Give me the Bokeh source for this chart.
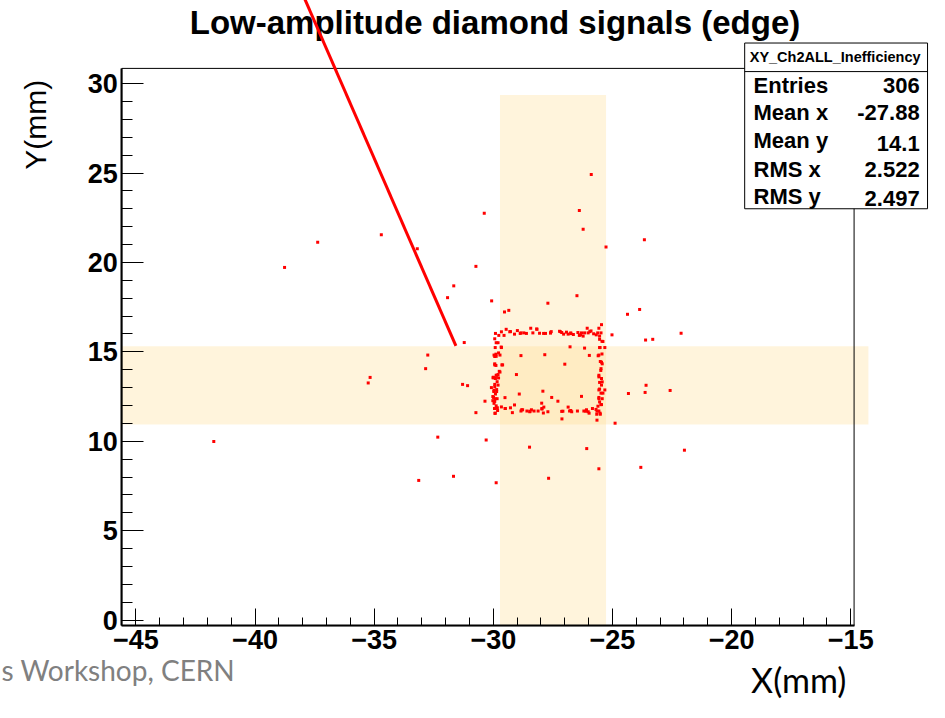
import math
from bokeh.plotting import figure
from bokeh.models import Range1d, LinearAxis, FixedTicker, Label
from bokeh.embed import file_html
from bokeh.resources import INLINE

# ---------------- data ----------------
title_text = "Low-amplitude diamond signals (edge)"
x_ticks = [-45, -40, -35, -30, -25, -20, -15]
x_minor = list(range(-45, -14))
y_ticks = [0, 5, 10, 15, 20, 25, 30]
y_minor = list(range(0, 31))
x_lim = [-45.59, -14.86]
y_lim = [-0.31, 30.85]

vband_x = [-29.72, -25.27]
vband_y = [-0.31, 29.36]
hband_x = [-45.59, -14.26]
hband_y = [10.94, 15.31]

line_x = [-31.57, -37.95]
line_y = [15.33, 34.85]

hit_x = [
    -37.37, -34.70, -33.19, -30.38, -30.73, -31.66, -31.92, -30.07, -26.39, -26.23,
    -25.27, -23.66, -27.71, -26.49, -29.53, -29.35, -24.37, -23.86, -25.02, -23.61,
    -23.31, -22.12, -31.22, -32.75, -32.84, -35.17, -35.25, -31.29, -31.08, -30.73,
    -24.33, -23.59, -23.63, -22.58, -24.89, -32.33, -30.30, -28.48, -26.08, -21.98,
    -23.81, -25.57, -27.68, -33.13, -31.67, -29.88, -27.12, -30.35, -41.73, -38.76,
    -25.89,
    # interior
    -28.84, -27.84, -26.78, -26.17, -25.97, -27.00, -29.03, -28.91, -27.92, -27.55,
    -27.29, -26.30, -27.97, -29.11, -29.51,
    # top edge
    -29.91, -29.77, -29.66, -29.55, -29.46, -29.28, -29.11, -28.99, -28.87, -28.72,
    -28.61, -28.43, -28.34, -28.17, -28.06, -27.89, -27.81, -27.60, -27.57, -27.22,
    -27.13, -27.05, -26.93, -26.86, -26.75, -26.64, -26.45, -26.39, -26.30, -26.23,
    -26.17, -26.06, -26.02, -25.90, -25.79, -25.68, -25.62, -25.57, -25.46,
    -29.31, -28.84, -28.18, -27.60, -27.19, -26.75, -26.34, -25.95,
    # bottom edge
    -29.93, -29.66, -29.50, -29.28, -29.20, -28.84, -28.77, -28.59, -28.47, -28.40,
    -28.29, -28.12, -27.96, -27.88, -27.90, -27.71, -27.13, -26.86, -26.80, -26.71,
    -26.47, -26.20, -26.09, -26.02, -25.84, -25.66, -25.51,
    -29.50, -28.81, -28.46, -27.96, -27.08, -26.75, -26.12, -25.98,
    # left edge
    -29.94, -29.88, -29.80, -29.66, -29.97, -29.88, -29.72, -29.94, -29.94, -29.64,
    -29.75, -29.80, -29.88, -29.97, -30.01, -29.84, -29.94, -29.98, -29.91, -29.99,
    -29.84, -29.94, -29.88, -29.95, -29.82, -30.08, -29.86, -29.91, -30.02,
    -29.92, -29.67, -29.89, -29.94, -29.78, -29.89, -29.61, -29.72, -29.85, -30.00,
    -29.78, -29.94, -29.80, -29.97, -29.86, -30.02, -29.92, -29.97, -29.83, -29.92,
    # right edge
    -25.48, -25.54, -25.44, -25.54, -25.32, -25.44, -25.57, -25.51, -25.43, -25.48,
    -25.57, -25.46, -25.54, -25.46, -25.57, -25.32, -25.48, -25.57, -25.43, -25.54,
    -25.46, -25.61, -25.69, -25.57, -25.65,
    -25.54, -25.40, -25.52, -25.60, -25.46, -25.49, -25.57, -25.43, -25.54, -25.40,
    -25.57, -25.49, -25.65, -25.52,
]
hit_y = [
    21.13, 21.55, 20.76, 22.75, 19.78, 18.69, 18.03, 17.85, 22.91, 21.86,
    20.86, 21.27, 17.72, 18.14, 17.23, 17.32, 17.10, 17.37, 15.95, 15.66,
    15.70, 16.04, 15.52, 14.82, 14.06, 13.57, 13.26, 13.18, 13.11, 11.60,
    12.67, 13.13, 12.73, 12.84, 11.01, 10.23, 10.07, 9.67, 9.59, 9.50,
    8.54, 8.46, 7.93, 7.81, 8.04, 7.68, 11.25, 12.24, 9.99, 19.72,
    24.92,
    # interior
    14.79, 14.84, 15.28, 15.21, 14.80, 14.31, 13.73, 12.64, 12.80, 12.45,
    12.24, 12.51, 12.13, 12.03, 12.44,
    # top edge
    16.03, 15.92, 16.12, 15.92, 16.26, 16.13, 15.99, 16.19, 16.03, 16.06,
    16.03, 16.32, 16.06, 16.26, 16.04, 16.03, 16.03, 16.06, 16.13, 16.15,
    16.08, 15.99, 16.10, 15.99, 16.06, 15.97, 16.08, 15.92, 16.06, 15.88,
    16.06, 16.32, 16.06, 16.17, 16.01, 15.95, 16.06, 16.32, 16.52,
    16.13, 16.06, 16.28, 16.06, 16.13, 16.02, 15.95, 16.13,
    # bottom edge
    11.56, 11.92, 11.83, 11.87, 11.60, 11.69, 11.76, 11.69, 11.65, 11.76,
    11.69, 11.69, 11.80, 11.91, 11.58, 11.65, 11.67, 11.91, 11.69, 11.65,
    11.69, 11.69, 11.76, 11.65, 11.83, 11.51, 11.51,
    11.83, 11.76, 11.68, 11.83, 11.68, 11.72, 11.68, 11.57,
    # left edge
    15.73, 15.51, 15.51, 15.24, 14.82, 14.75, 14.82, 14.33, 14.27, 14.27,
    13.91, 13.73, 13.69, 13.55, 13.55, 13.33, 13.05, 12.78, 12.64, 12.45,
    12.38, 12.23, 11.98, 11.83, 11.72, 13.00, 12.89, 13.51, 12.27,
    15.24, 15.27, 14.87, 14.74, 14.94, 14.24, 14.27, 13.87, 13.69, 13.58,
    13.54, 13.18, 13.14, 12.85, 12.78, 12.50, 12.38, 12.12, 11.87, 11.57,
    # right edge
    16.06, 15.70, 15.59, 15.24, 15.24, 14.88, 14.82, 14.46, 14.33, 14.06,
    13.69, 13.51, 13.29, 13.14, 12.87, 12.87, 12.69, 12.45, 12.38, 12.20,
    12.05, 11.96, 11.78, 11.69, 11.18,
    15.88, 15.58, 15.24, 14.78, 14.42, 13.96, 13.60, 13.32, 12.92, 12.69,
    12.38, 12.05, 11.68, 11.57,
]

stats_title = "XY_Ch2ALL_Inefficiency"
stats_names = ["Entries", "Mean x", "Mean y", "RMS x", "RMS y"]
stats_values = ["306", "-27.88", "14.1", "2.522", "2.497"]

# ---------------- layout helpers (reference pixel -> data) ----------------
W, H = 929, 702
REF_W, REF_H = 945, 718
PX0, PXS = 137.7, 24.24   # ref x pixel of x=-45, pixels per mm
PY0, PYS = 633.7, 18.29   # ref y pixel of y=0, pixels per mm


def X(px):
    return -45 + (px - PX0) / PXS


def Y(py):
    return (PY0 - py) / PYS


p = figure(width=W, height=H, output_backend="svg", toolbar_location=None,
           x_range=Range1d(X(0), X(REF_W)), y_range=Range1d(Y(REF_H), Y(0)),
           x_axis_type=None, y_axis_type=None, min_border=0,
           outline_line_color=None, background_fill_color="white",
           border_fill_color="white")

BAND = "#FFD98A"
p.quad(left=[vband_x[0]], right=[vband_x[1]], bottom=[vband_y[0]], top=[vband_y[1]],
       fill_color=BAND, fill_alpha=0.3, line_color=None)
p.quad(left=[hband_x[0]], right=[hband_x[1]], bottom=[hband_y[0]], top=[hband_y[1]],
       fill_color=BAND, fill_alpha=0.3, line_color=None)

# frame box
p.quad(left=[x_lim[0]], right=[x_lim[1]], bottom=[y_lim[0]], top=[y_lim[1]],
       fill_color=None, line_color="black", line_width=1)

p.scatter(hit_x, hit_y, marker="square", size=3, fill_color="#FF0000", line_color=None)

ln = p.line(line_x, line_y, line_color="#FF0000", line_width=3)
ln.level = "overlay"

# axes
TICKFONT = "Liberation Sans"
yaxis = LinearAxis(fixed_location=x_lim[0], bounds=(y_lim[0], y_lim[1]),
                   ticker=FixedTicker(ticks=y_ticks, minor_ticks=y_minor))
xaxis = LinearAxis(fixed_location=y_lim[0], bounds=(x_lim[0], x_lim[1]),
                   ticker=FixedTicker(ticks=x_ticks, minor_ticks=x_minor))
for ax, mj, mn in ((yaxis, 22, 11), (xaxis, 17, 8)):
    ax.major_tick_in = mj
    ax.major_tick_out = 0
    ax.minor_tick_in = mn
    ax.minor_tick_out = 0
    ax.axis_line_width = 2
    ax.axis_line_color = "black"
    ax.major_tick_line_color = "black"
    ax.minor_tick_line_color = "black"
    ax.major_tick_line_width = 1
    ax.minor_tick_line_width = 1
    ax.major_label_text_font = TICKFONT
    ax.major_label_text_font_style = "bold"
    ax.major_label_text_font_size = "27px"
    ax.major_label_text_color = "black"
    ax.major_label_standoff = 4
p.add_layout(yaxis, "left")
p.add_layout(xaxis, "below")

# stats box
p.quad(left=[X(757)], right=[X(943)], bottom=[Y(213)], top=[Y(43.5)],
       fill_color="white", line_color="black", line_width=1)
p.segment(x0=[X(757)], x1=[X(943)], y0=[Y(72.7)], y1=[Y(72.7)],
          line_color="black", line_width=1)
p.add_layout(Label(x=X(849), y=Y(58), text=stats_title, text_align="center",
                   text_baseline="middle", text_font=TICKFONT, text_font_style="bold",
                   text_font_size="14.5px", text_color="black"))
row_y = [87.3, 114.5, 143.0, 173.0, 200.0]
val_dy = [0, 0, 3, 0, 3]
for name, val, ry, dd in zip(stats_names, stats_values, row_y, val_dy):
    p.add_layout(Label(x=X(766), y=Y(ry), text=name, text_align="left",
                       text_baseline="middle", text_font=TICKFONT,
                       text_font_style="bold", text_font_size="22px",
                       text_color="black"))
    p.add_layout(Label(x=X(935), y=Y(ry + dd), text=val, text_align="right",
                       text_baseline="middle", text_font=TICKFONT,
                       text_font_style="bold", text_font_size="22px",
                       text_color="black"))

# titles
p.add_layout(Label(x=X(503), y=Y(23), text=title_text, text_align="center",
                   text_baseline="middle", text_font=TICKFONT, text_font_style="bold",
                   text_font_size="33px", text_color="black"))
p.add_layout(Label(x=X(36), y=Y(127), text="Y(mm)", angle=math.pi / 2,
                   text_align="center", text_baseline="middle", text_font=TICKFONT,
                   text_font_size="30px", text_color="black"))
p.add_layout(Label(x=X(812), y=Y(694), text="X(mm)", text_align="center",
                   text_baseline="middle", text_font="Lato", text_font_size="34px",
                   text_color="black"))
p.add_layout(Label(x=X(1), y=Y(685), text="s Workshop, CERN", text_align="left",
                   text_baseline="middle", text_font="Lato", text_font_size="28px",
                   text_color="#808080"))

open("out.html", "w").write(file_html(p, INLINE))
